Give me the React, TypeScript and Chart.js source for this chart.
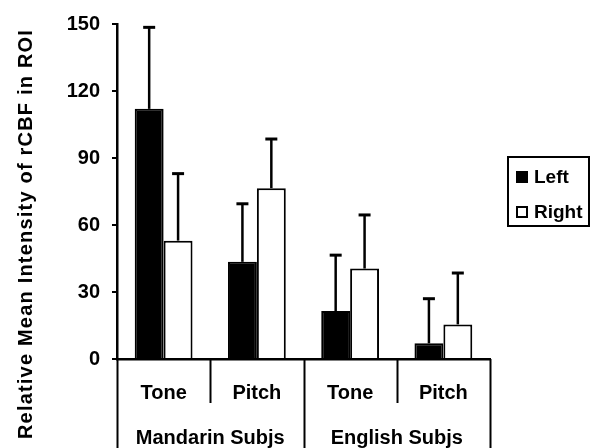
import React, { useEffect, useRef } from "react";
import { Chart, registerables } from "chart.js";

Chart.register(...registerables);

const categories = ["Tone", "Pitch", "Tone", "Pitch"];
const groups = ["Mandarin Subjs", "English Subjs"];
const groupSpan = [2, 2];
const seriesNames = ["Left", "Right"];
const leftValues = [112, 43.5, 21.5, 7];
const rightValues = [53, 76.5, 40.5, 15.5];
const leftErrors = [36.5, 26, 25, 20];
const rightErrors = [30, 22, 24, 23];
const yTickStep = 30;
const yMax = 150;
const yTitle = "Relative Mean Intensity of rCBF in ROI";

const FONT = '"Liberation Sans", Arial, sans-serif';

const customPlugin = {
  id: "customDecor",
  afterDatasetsDraw(chart: any) {
    const ctx = chart.ctx;
    const y = chart.scales.y;
    chart.data.datasets.forEach((ds: any, di: number) => {
      const meta = chart.getDatasetMeta(di);
      meta.data.forEach((bar: any, i: number) => {
        const v = ds.data[i];
        const e = ds.errors[i];
        const base = y.getPixelForValue(v);
        const top = y.getPixelForValue(v + e);
        ctx.save();
        ctx.strokeStyle = "#000";
        ctx.lineWidth = 2.5;
        ctx.beginPath();
        ctx.moveTo(bar.x, base);
        ctx.lineTo(bar.x, top);
        ctx.stroke();
        ctx.lineWidth = 3;
        ctx.beginPath();
        ctx.moveTo(bar.x - 6, top);
        ctx.lineTo(bar.x + 6, top);
        ctx.stroke();
        ctx.restore();
      });
    });
  },
  afterDraw(chart: any) {
    const ctx = chart.ctx;
    const x = chart.scales.x;
    const area = chart.chartArea;
    const H = chart.height;
    ctx.save();
    ctx.strokeStyle = "#000";
    ctx.lineWidth = 2;
    // table lines under axis
    const boundary = (i: number) =>
      i <= 0
        ? area.left
        : i >= categories.length
        ? area.right
        : (x.getPixelForValue(i - 1) + x.getPixelForValue(i)) / 2;
    const groupEdges: number[] = [0];
    groupSpan.forEach((s) => groupEdges.push(groupEdges[groupEdges.length - 1] + s));
    for (let i = 0; i <= categories.length; i++) {
      const px = Math.round(boundary(i)) + 0.5;
      const full = groupEdges.includes(i);
      ctx.beginPath();
      ctx.moveTo(px, area.bottom);
      ctx.lineTo(px, full ? H : area.bottom + 44);
      ctx.stroke();
    }
    // group labels
    ctx.fillStyle = "#000";
    ctx.font = `bold 20px ${FONT}`;
    ctx.textAlign = "center";
    ctx.textBaseline = "middle";
    groups.forEach((g, gi) => {
      const cx = (boundary(groupEdges[gi]) + boundary(groupEdges[gi + 1])) / 2;
      ctx.fillText(g, cx, area.bottom + 79);
    });
    // y title
    ctx.save();
    ctx.translate(26, 234);
    ctx.rotate(-Math.PI / 2);
    ctx.font = `bold 20px ${FONT}`;
    (ctx as any).letterSpacing = "1.2px";
    ctx.textAlign = "center";
    ctx.textBaseline = "middle";
    ctx.fillText(yTitle, 0, 0);
    ctx.restore();
    // legend
    const lx = 508, ly = 157, lw = 81, lh = 69;
    ctx.lineWidth = 2;
    ctx.strokeRect(lx, ly, lw, lh);
    ctx.font = `bold 19px ${FONT}`;
    ctx.textAlign = "left";
    ctx.textBaseline = "middle";
    chart.data.datasets.forEach((ds: any, di: number) => {
      const cy = ly + 20 + di * 35;
      ctx.fillStyle = ds.backgroundColor;
      ctx.fillRect(lx + 8, cy - 6, 12, 12);
      ctx.strokeStyle = "#000";
      ctx.lineWidth = 2;
      ctx.strokeRect(lx + 9, cy - 5, 10, 10);
      ctx.fillStyle = "#000";
      ctx.fillText(ds.label, lx + 26, cy + 1);
    });
    ctx.restore();
  },
};

export default function App() {
  const ref = useRef<HTMLCanvasElement>(null);
  useEffect(() => {
    if (!ref.current) return;
    const chart = new Chart(ref.current, {
      type: "bar",
      data: {
        labels: categories,
        datasets: [
          {
            label: seriesNames[0],
            data: leftValues,
            errors: leftErrors,
            backgroundColor: "#000000",
            borderColor: "#000000",
            borderWidth: 2,
          } as any,
          {
            label: seriesNames[1],
            data: rightValues,
            errors: rightErrors,
            backgroundColor: "#ffffff",
            borderColor: "#000000",
            borderWidth: 2,
          } as any,
        ],
      },
      options: {
        animation: false,
        responsive: true,
        maintainAspectRatio: false,
        layout: { padding: { top: 20, left: 0, right: 107, bottom: 0 } },
        datasets: { bar: { categoryPercentage: 0.62, barPercentage: 1 } },
        plugins: { legend: { display: false }, tooltip: { enabled: false } },
        scales: {
          x: {
            grid: { display: false, drawTicks: false },
            border: { display: true, color: "#000", width: 2.5 },
            ticks: {
              color: "#000",
              font: { family: FONT, size: 20, weight: "bold" },
              padding: 22,
              maxRotation: 0,
            },
            afterFit: (s: any) => {
              s.height = 89;
            },
          },
          y: {
            min: 0,
            max: yMax,
            ticks: {
              stepSize: yTickStep,
              color: "#000",
              font: { family: FONT, size: 20, weight: "bold" },
              padding: 12,
            },
            grid: {
              display: true,
              drawOnChartArea: false,
              drawTicks: true,
              tickLength: 5,
              tickColor: "#000",
              lineWidth: 2,
            },
            border: { display: true, color: "#000", width: 2.5 },
            afterFit: (s: any) => {
              s.width = 117;
            },
          },
        },
      },
      plugins: [customPlugin],
    });
    return () => chart.destroy();
  }, []);
  return (
    <div style={{ position: "fixed", left: 0, top: 0, width: 597, height: 448, background: "#fff" }}>
      <canvas ref={ref} />
    </div>
  );
}
